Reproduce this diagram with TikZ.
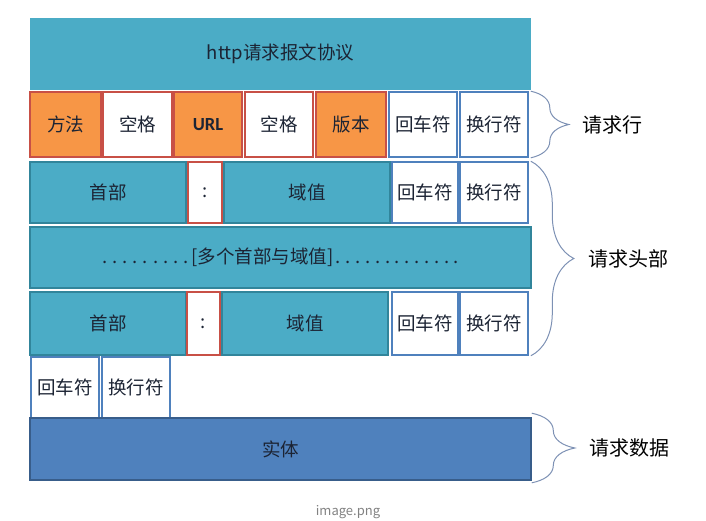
\documentclass[tikz,border=0pt]{standalone}
\usepackage{fontspec}
\setmainfont{Noto Sans CJK SC}
\newfontfamily\latinbold{Carlito}[BoldFont={* Bold}]
\usepackage{tikz}
\usetikzlibrary{
  positioning,
  decorations.pathreplacing
}
\definecolor{HeadTeal}{RGB}{75, 172, 198}
\definecolor{EdgeTeal}{RGB}{49, 133, 155}
\definecolor{MethodOrange}{RGB}{247, 150, 70}
\definecolor{EdgeRed}{RGB}{200, 80, 70}
\definecolor{BodyBlue}{RGB}{79, 129, 189}
\definecolor{EdgeBlue}{RGB}{56, 93, 138}
\definecolor{CellText}{RGB}{28, 36, 52}
\definecolor{BraceGray}{RGB}{125, 145, 180}
\definecolor{CaptionGray}{RGB}{130, 130, 130}
\tikzset{
    cell/.style={rectangle, line width=1.6pt, inner sep=0pt, text=CellText, font=\fontsize{18.5}{21}\selectfont},
    tealcell/.style={cell, fill=HeadTeal, draw=EdgeTeal},
    orangecell/.style={cell, fill=MethodOrange, draw=EdgeRed},
    gapcell/.style={cell, fill=white, draw=EdgeRed},
    crlfcell/.style={cell, fill=white, draw=BodyBlue},
    bodycell/.style={cell, fill=BodyBlue, draw=EdgeBlue},
    partbrace/.style={draw=BraceGray, line width=1pt, decorate, decoration={brace, amplitude=#1}},
    partlabel/.style={font=\fontsize{20}{23}\selectfont, text=black, inner sep=0pt, anchor=west}
}
\newcommand{\dotrow}[1]{\hbox to #1{\xleaders\hbox to 9.8pt{\hss.\hss}\hfill}}

\begin{document}
\begin{tikzpicture}[x=1pt, y=-1pt]
    \useasboundingbox (0,0) rectangle (706,520);
    \node[tealcell, draw=none, minimum width=501pt, minimum height=72pt] (title) at (280.5,54) {http请求报文协议};

    \node[orangecell, minimum width=71pt, minimum height=65pt] (rl1) at (65.5,124.5) {方法};
    \node[gapcell, minimum width=69pt, minimum height=65pt] (rl2) at (137.5,124.5) {空格};
    \node[orangecell, minimum width=68pt, minimum height=65pt] (rl3) at (208,124.5) {\latinbold\bfseries URL};
    \node[gapcell, minimum width=68pt, minimum height=65pt] (rl4) at (279,124.5) {空格};
    \node[orangecell, minimum width=70pt, minimum height=65pt] (rl5) at (351,124.5) {版本};
    \node[crlfcell, minimum width=68pt, minimum height=65pt] (rl6) at (423,124.5) {回车符};
    \node[crlfcell, minimum width=68pt, minimum height=65pt] (rl7) at (494,124.5) {换行符};

    \node[tealcell, minimum width=156pt, minimum height=61pt] (ha1) at (108,192.5) {首部};
    \node[gapcell, minimum width=34pt, minimum height=61pt] (ha2) at (205,192.5) {:};
    \node[tealcell, minimum width=166pt, minimum height=61pt] (ha3) at (307,192.5) {域值};
    \node[crlfcell, minimum width=66pt, minimum height=61pt] (ha4) at (425,192.5) {回车符};
    \node[crlfcell, minimum width=68pt, minimum height=61pt] (ha5) at (494,192.5) {换行符};

    \node[tealcell, minimum width=501pt, minimum height=61pt] (more) at (280.5,257.5) {\dotrow{92pt}[多个首部与域值]\dotrow{128pt}};

    \node[tealcell, minimum width=156pt, minimum height=63pt] (hb1) at (108,323.5) {首部};
    \node[gapcell, minimum width=33pt, minimum height=63pt] (hb2) at (203.5,323.5) {:};
    \node[tealcell, minimum width=166pt, minimum height=63pt] (hb3) at (305,323.5) {域值};
    \node[crlfcell, minimum width=66pt, minimum height=63pt] (hb4) at (425,323.5) {回车符};
    \node[crlfcell, minimum width=68pt, minimum height=63pt] (hb5) at (494,323.5) {换行符};

    \node[crlfcell, minimum width=68pt, minimum height=61pt] (end1) at (65,387.5) {回车符};
    \node[crlfcell, minimum width=68pt, minimum height=61pt] (end2) at (136,387.5) {换行符};

    \node[bodycell, minimum width=501pt, minimum height=62pt] (body) at (280.5,449) {实体};

    \draw[partbrace=38pt] ([xshift=2pt]rl7.north east) -- ([xshift=2pt]rl7.south east)
        node[partlabel, midway, right=51pt] (rllabel) {请求行};
    \draw[partbrace=43pt] ([xshift=2pt]ha5.north east) -- ([xshift=2pt]hb5.south east)
        node[partlabel, midway, right=57pt] (hdlabel) {请求头部};
    \draw[partbrace=43pt] ([yshift=4pt]body.north east) -- ([yshift=-2pt]body.south east)
        node[partlabel, midway, right=57pt] (bdlabel) {请求数据};

    \node[font=\fontsize{13}{15}\selectfont, text=CaptionGray] (caption) at (348,512) {image.png};
\end{tikzpicture}
\end{document}
